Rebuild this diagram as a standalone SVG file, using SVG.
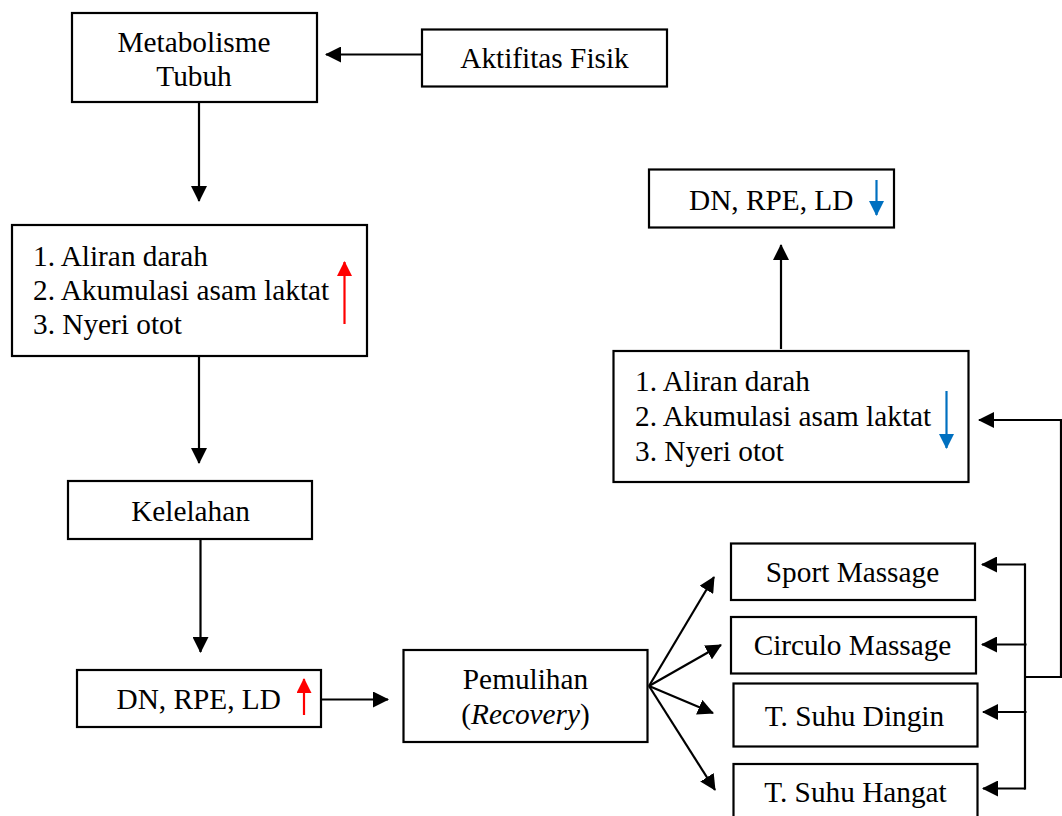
<svg xmlns="http://www.w3.org/2000/svg" width="1062" height="816" viewBox="0 0 1062 816">
<style>
.box{fill:#fff;stroke:#000;stroke-width:2.2}
.t{font-family:"Liberation Serif","Times New Roman",serif;font-size:29.3px;fill:#000}
.c{text-anchor:middle}
.ln{fill:none;stroke:#000;stroke-width:2.2}
.red{fill:none;stroke:#FF0000;stroke-width:2.2}
.blue{fill:none;stroke:#0070C0;stroke-width:2.2}
</style>
<defs>
<marker id="ah" viewBox="0 0 16 16" refX="15" refY="8" markerWidth="16" markerHeight="16" markerUnits="userSpaceOnUse" orient="auto"><path d="M0,0 L16,8 L0,16 z" fill="#000"/></marker>
<marker id="ahr" viewBox="0 0 16 16" refX="15" refY="8" markerWidth="16" markerHeight="15" markerUnits="userSpaceOnUse" orient="auto"><path d="M0,0 L16,8 L0,16 z" fill="#FF0000"/></marker>
<marker id="ahb" viewBox="0 0 16 16" refX="15" refY="8" markerWidth="16" markerHeight="15" markerUnits="userSpaceOnUse" orient="auto"><path d="M0,0 L16,8 L0,16 z" fill="#0070C0"/></marker>
</defs>
<rect width="1062" height="816" fill="#fff"/>

<g id="connectors">
<line class="ln" x1="422" y1="54.5" x2="326" y2="54.5" marker-end="url(#ah)"/>
<line class="ln" x1="199" y1="102" x2="199" y2="201" marker-end="url(#ah)"/>
<line class="ln" x1="199" y1="356" x2="199" y2="463" marker-end="url(#ah)"/>
<line class="ln" x1="200.5" y1="539" x2="200.5" y2="652" marker-end="url(#ah)"/>
<line class="ln" x1="321" y1="699.5" x2="388" y2="699.5" marker-end="url(#ah)"/>
<line class="ln" x1="649" y1="686" x2="714" y2="577" marker-end="url(#ah)"/>
<line class="ln" x1="649" y1="686" x2="721" y2="645" marker-end="url(#ah)"/>
<line class="ln" x1="649" y1="686" x2="713" y2="713" marker-end="url(#ah)"/>
<line class="ln" x1="649" y1="686" x2="715" y2="790" marker-end="url(#ah)"/>
<polyline class="ln" points="1025,564.5 982,564.5" marker-end="url(#ah)"/>
<polyline class="ln" points="1026.5,644.5 982,644.5" marker-end="url(#ah)"/>
<polyline class="ln" points="1026.5,712 983,712" marker-end="url(#ah)"/>
<polyline class="ln" points="1025,788.5 983,788.5" marker-end="url(#ah)"/>
<line class="ln" x1="1025" y1="563.4" x2="1025" y2="789.6"/>
<polyline class="ln" points="1025,677 1061,677 1061,420 979,420" marker-end="url(#ah)"/>
<line class="ln" x1="781" y1="349" x2="781" y2="245" marker-end="url(#ah)"/>
</g>

<g id="metabolisme">
<rect class="box" x="72" y="13" width="245" height="89"/>
<text class="t c" x="194" y="52">Metabolisme</text>
<text class="t c" x="194" y="86">Tubuh</text>
</g>

<g id="aktifitas">
<rect class="box" x="422" y="29.5" width="245" height="57"/>
<text class="t c" x="544.5" y="68">Aktifitas Fisik</text>
</g>

<g id="list-up">
<rect class="box" x="12" y="225" width="355" height="131"/>
<text class="t" x="33" y="266">1. Aliran darah</text>
<text class="t" x="33" y="300">2. Akumulasi asam laktat</text>
<text class="t" x="33" y="334">3. Nyeri otot</text>
<line class="red" x1="344.5" y1="324" x2="344.5" y2="262" marker-end="url(#ahr)"/>
</g>

<g id="kelelahan">
<rect class="box" x="68" y="481" width="244" height="58"/>
<text class="t c" x="190.5" y="521">Kelelahan</text>
</g>

<g id="dn-up">
<rect class="box" x="77" y="670" width="244" height="57"/>
<text class="t" x="116.5" y="708.5">DN, RPE, LD</text>
<line class="red" x1="304" y1="715" x2="304" y2="679" marker-end="url(#ahr)"/>
</g>

<g id="pemulihan">
<rect class="box" x="403.5" y="650" width="244" height="92"/>
<text class="t c" x="525.5" y="688.5">Pemulihan</text>
<text class="t c" x="525.5" y="723.5">(<tspan font-style="italic">Recovery</tspan>)</text>
</g>

<g id="sport-massage">
<rect class="box" x="731" y="543.5" width="244" height="56.5"/>
<text class="t c" x="852.5" y="582">Sport Massage</text>
</g>

<g id="circulo-massage">
<rect class="box" x="731" y="617" width="245" height="56.5"/>
<text class="t c" x="852.5" y="655">Circulo Massage</text>
</g>

<g id="suhu-dingin">
<rect class="box" x="733.5" y="683.5" width="244" height="63"/>
<text class="t c" x="854.5" y="726">T. Suhu Dingin</text>
</g>

<g id="suhu-hangat">
<rect class="box" x="733.5" y="764" width="244" height="70"/>
<text class="t c" x="855.5" y="802">T. Suhu Hangat</text>
</g>

<g id="list-down">
<rect class="box" x="613.5" y="351" width="355" height="131"/>
<text class="t" x="635" y="391">1. Aliran darah</text>
<text class="t" x="635" y="425.5">2. Akumulasi asam laktat</text>
<text class="t" x="635" y="460.5">3. Nyeri otot</text>
<line class="blue" x1="946.5" y1="391" x2="946.5" y2="448" marker-end="url(#ahb)"/>
</g>

<g id="dn-down">
<rect class="box" x="649" y="169.5" width="245" height="58"/>
<text class="t" x="689" y="209.5">DN, RPE, LD</text>
<line class="blue" x1="876.5" y1="180" x2="876.5" y2="215" marker-end="url(#ahb)"/>
</g>
</svg>
